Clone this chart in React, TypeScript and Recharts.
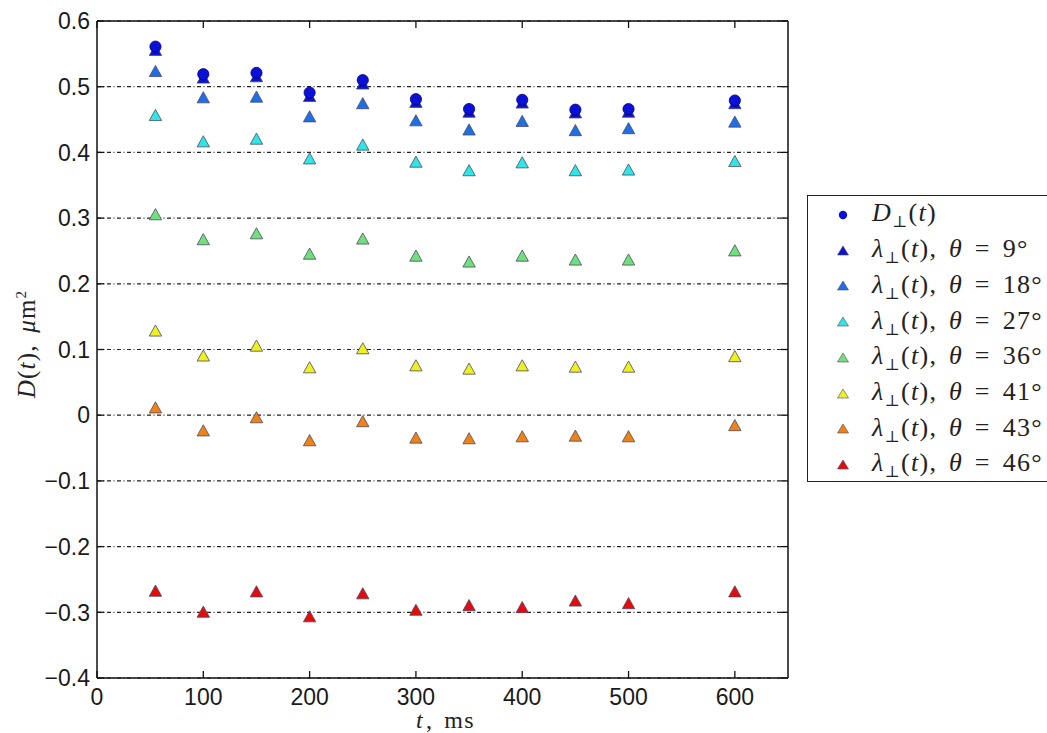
import { ScatterChart, Scatter, XAxis, YAxis, CartesianGrid } from 'recharts';

// sampling times, ms
const T = [55, 100, 150, 200, 250, 300, 350, 400, 450, 500, 600];

// D_perp(t) and lambda_perp(t) for each theta, um^2
const D_PERP = [0.561, 0.519, 0.521, 0.491, 0.51, 0.481, 0.466, 0.48, 0.465, 0.466, 0.479];
const L_9 = [0.555, 0.513, 0.515, 0.485, 0.504, 0.476, 0.461, 0.475, 0.46, 0.461, 0.474];
const L_18 = [0.523, 0.483, 0.484, 0.454, 0.474, 0.448, 0.434, 0.447, 0.433, 0.436, 0.446];
const L_27 = [0.456, 0.416, 0.42, 0.39, 0.411, 0.385, 0.372, 0.384, 0.372, 0.373, 0.386];
const L_36 = [0.305, 0.267, 0.276, 0.245, 0.268, 0.242, 0.233, 0.242, 0.236, 0.236, 0.25];
const L_41 = [0.128, 0.09, 0.105, 0.072, 0.101, 0.075, 0.07, 0.075, 0.073, 0.073, 0.089];
const L_43 = [0.011, -0.024, -0.004, -0.039, -0.01, -0.035, -0.036, -0.033, -0.032, -0.033, -0.016];
const L_46 = [-0.268, -0.3, -0.269, -0.307, -0.272, -0.297, -0.29, -0.293, -0.283, -0.287, -0.269];

const X_TICKS = [0, 100, 200, 300, 400, 500, 600];
const Y_TICKS = [-0.4, -0.3, -0.2, -0.1, 0, 0.1, 0.2, 0.3, 0.4, 0.5, 0.6];
const THETAS = ['9', '18', '27', '36', '41', '43', '46'];

const LAMBDAS = [L_9, L_18, L_27, L_36, L_41, L_43, L_46];
const TRI_COLORS = ['#0a14c8', '#1e6fe6', '#2ee6e6', '#6fe07a', '#f0f01e', '#f08214', '#e60a0a'];

const toPoints = (vals: number[]) => vals.map((v, i) => ({ t: T[i], v }));

const fmtY = (v: number) => {
  const s = Math.abs(v) < 1e-9 ? '0' : Math.abs(v).toFixed(1);
  return v < -1e-9 ? '\u2212' + s : s;
};

const TICK_LEN = 7;
const X_MARGIN = 9;
const Y_MARGIN = 7;
const sans = '"Liberation Sans", Arial, sans-serif';
const serif = '"Liberation Serif", "DejaVu Serif", serif';
const FRAME = '#111';

// bottom axis: label below, inward tick above the axis line
function BottomTick(props: any) {
  const { x, y, payload } = props;
  const ay = y - X_MARGIN;
  return (
    <g>
      <line x1={x} x2={x} y1={ay} y2={ay - TICK_LEN} stroke={FRAME} strokeWidth={1.3} />
      <text x={x} y={y} dy="0.8em" textAnchor="middle" fontSize={23} fill="#1a1a1a" fontFamily={sans}>
        {payload.value}
      </text>
    </g>
  );
}

function LeftTick(props: any) {
  const { x, y, payload } = props;
  const ax = x + Y_MARGIN;
  return (
    <g>
      <line x1={ax} x2={ax + TICK_LEN} y1={y} y2={y} stroke={FRAME} strokeWidth={1.3} />
      <text x={x} y={y} dy="0.36em" textAnchor="end" fontSize={23} fill="#1a1a1a" fontFamily={sans}>
        {fmtY(payload.value)}
      </text>
    </g>
  );
}

function TopTick(props: any) {
  const { x, y } = props;
  return <line x1={x} x2={x} y1={y} y2={y + TICK_LEN} stroke={FRAME} strokeWidth={1.3} />;
}

function RightTick(props: any) {
  const { x, y } = props;
  return <line x1={x} x2={x - TICK_LEN} y1={y} y2={y} stroke={FRAME} strokeWidth={1.3} />;
}

function Tri(props: any) {
  const { cx, cy, fill } = props;
  if (cx == null || cy == null) return null;
  const s = 6.2;
  return (
    <polygon
      points={`${cx},${cy - s} ${cx - s},${cy + s * 0.8} ${cx + s},${cy + s * 0.8}`}
      fill={fill}
      stroke="#4a4a6a"
      strokeWidth={0.8}
    />
  );
}

function Dot(props: any) {
  const { cx, cy } = props;
  if (cx == null || cy == null) return null;
  return <circle cx={cx} cy={cy} r={5.6} fill="#0a10d8" stroke="#00007a" strokeWidth={0.8} />;
}

function Lam({ theta }: { theta: string }) {
  return (
    <span>
      <i>λ</i>
      <sub style={{ fontSize: 16 }}>⊥</sub>(<i>t</i>), <i>θ</i> = {theta}°
    </span>
  );
}

export default function App() {
  return (
    <div style={{ position: 'absolute', left: 0, top: 0, width: 1047, height: 733, overflow: 'hidden', background: '#fff' }}>
      <ScatterChart width={1047} height={733} margin={{ top: 20, right: 258, bottom: 15, left: 17 }}>
        <CartesianGrid
          vertical={false}
          xAxisId="b"
          yAxisId="l"
          stroke="#222"
          strokeWidth={1.2}
          strokeDasharray="4 2.5 1 2.5"
        />
        <XAxis
          xAxisId="b"
          type="number"
          dataKey="t"
          domain={[0, 650]}
          ticks={X_TICKS}
          allowDataOverflow
          height={40}
          tick={BottomTick}
          tickLine={false}
          tickSize={0}
          tickMargin={X_MARGIN}
          stroke={FRAME}
          strokeWidth={1.5}
        />
        <XAxis
          xAxisId="t"
          orientation="top"
          type="number"
          dataKey="t"
          domain={[0, 650]}
          ticks={X_TICKS}
          allowDataOverflow
          height={1}
          tick={TopTick}
          tickLine={false}
          tickSize={0}
          tickMargin={0}
          stroke={FRAME}
          strokeWidth={1.5}
        />
        <YAxis
          yAxisId="l"
          type="number"
          dataKey="v"
          domain={[-0.4, 0.6]}
          ticks={Y_TICKS}
          allowDataOverflow
          width={80}
          tick={LeftTick}
          tickLine={false}
          tickSize={0}
          tickMargin={Y_MARGIN}
          stroke={FRAME}
          strokeWidth={1.5}
        />
        <YAxis
          yAxisId="r"
          orientation="right"
          type="number"
          dataKey="v"
          domain={[-0.4, 0.6]}
          ticks={Y_TICKS}
          allowDataOverflow
          width={1}
          tick={RightTick}
          tickLine={false}
          tickSize={0}
          tickMargin={0}
          stroke={FRAME}
          strokeWidth={1.5}
        />
        {LAMBDAS.map((vals, i) => (
          <Scatter
            key={THETAS[i]}
            name={`theta ${THETAS[i]}`}
            xAxisId="b"
            yAxisId="l"
            data={toPoints(vals)}
            fill={TRI_COLORS[i]}
            shape={Tri}
            isAnimationActive={false}
          />
        ))}
        <Scatter
          name="D_perp"
          xAxisId="b"
          yAxisId="l"
          data={toPoints(D_PERP)}
          fill="#0a10d8"
          shape={Dot}
          isAnimationActive={false}
        />
      </ScatterChart>

      {/* axis titles */}
      <div
        style={{
          position: 'absolute',
          left: 416,
          top: 708,
          fontFamily: serif,
          fontSize: 24,
          lineHeight: '24px',
          letterSpacing: 1.2,
          wordSpacing: 4,
          color: '#222',
          whiteSpace: 'nowrap',
        }}
      >
        <i style={{ marginRight: 2 }}>t</i>, ms
      </div>
      <div
        style={{
          position: 'absolute',
          left: 27,
          top: 344,
          transform: 'translate(-50%, -50%) rotate(-90deg)',
          fontFamily: serif,
          fontSize: 25,
          letterSpacing: 1.2,
          wordSpacing: 4,
          color: '#222',
          whiteSpace: 'nowrap',
        }}
      >
        <i>D</i>(<i>t</i>), <i>μ</i>m<sup style={{ fontSize: 15 }}>2</sup>
      </div>

      {/* legend */}
      <div
        style={{
          position: 'absolute',
          left: 807,
          top: 195,
          width: 250,
          height: 287,
          border: '1.5px solid #222',
          background: '#fff',
          fontFamily: serif,
          fontSize: 26,
          letterSpacing: 1.3,
          wordSpacing: 4,
          color: '#222',
          boxSizing: 'border-box',
        }}
      >
        {[null, ...THETAS].map((th, i) => (
          <div
            key={i}
            style={{ position: 'absolute', left: 0, top: 1 + i * 35.7, height: 36, display: 'flex', alignItems: 'center', whiteSpace: 'nowrap' }}
          >
            <svg width={64} height={36} style={{ flex: 'none' }}>
              {th === null ? (
                <circle cx={35} cy={18} r={4.2} fill="#0a10d8" />
              ) : (
                <polygon points="35,13 29.5,22 40.5,22" fill={TRI_COLORS[i - 1]} stroke="#4a4a6a" strokeWidth={0.6} />
              )}
            </svg>
            {th === null ? (
              <span>
                <i>D</i>
                <sub style={{ fontSize: 16 }}>⊥</sub>(<i>t</i>)
              </span>
            ) : (
              <Lam theta={th} />
            )}
          </div>
        ))}
      </div>
    </div>
  );
}
